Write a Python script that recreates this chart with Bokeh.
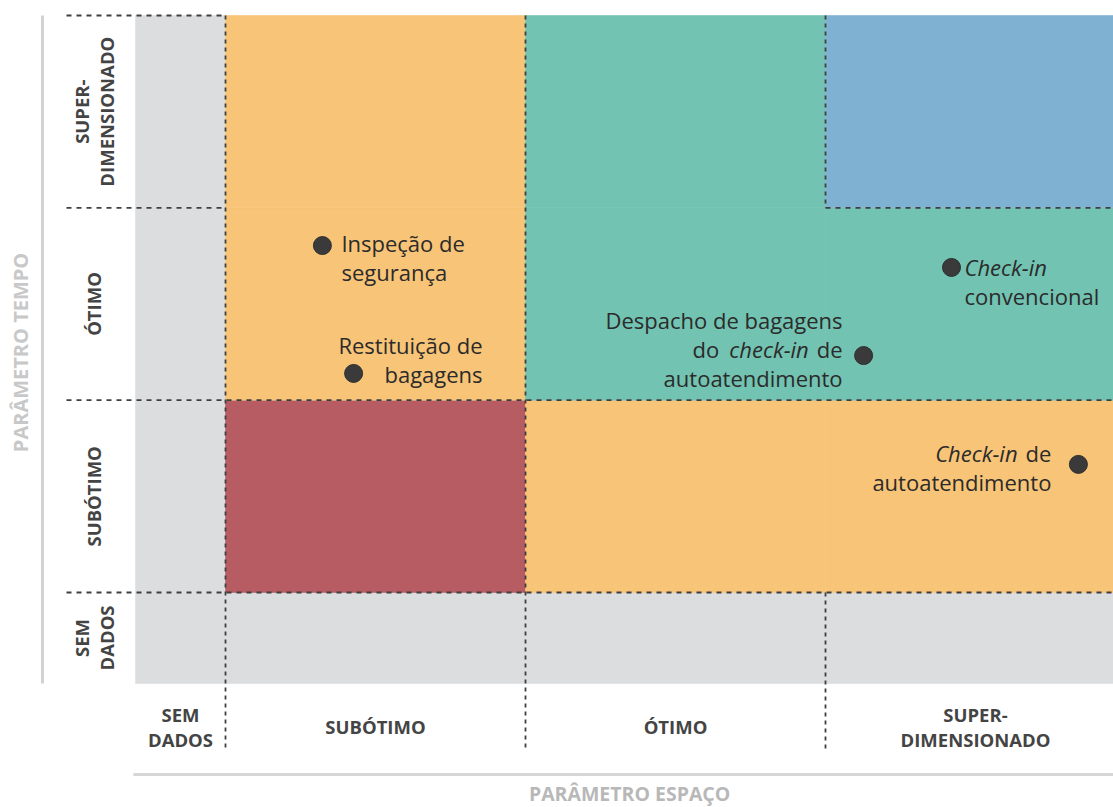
import math
from bokeh.plotting import figure
from bokeh.models import ColumnDataSource, Range1d
from bokeh.core.properties import value
from bokeh.embed import file_html
from bokeh.resources import INLINE

# ---------------- data ----------------
space_categories = ["SEM DADOS", "SUBÓTIMO", "ÓTIMO", "SUPER-DIMENSIONADO"]
time_categories = ["SEM DADOS", "SUBÓTIMO", "ÓTIMO", "SUPER-DIMENSIONADO"]
space_tick_labels = ["SEM\nDADOS", "SUBÓTIMO", "ÓTIMO", "SUPER-\nDIMENSIONADO"]
time_tick_labels = ["SEM\nDADOS", "SUBÓTIMO", "ÓTIMO", "SUPER-\nDIMENSIONADO"]
axis_title_space = "PARÂMETRO ESPAÇO"
axis_title_time = "PARÂMETRO TEMPO"

# zone of each (time row, space column) cell; rows/cols follow the category lists
zone_grid = [
    ["sem dados", "sem dados", "sem dados", "sem dados"],          # time: SEM DADOS
    ["sem dados", "crítico", "subótimo", "subótimo"],              # time: SUBÓTIMO
    ["sem dados", "subótimo", "ótimo", "ótimo"],                   # time: ÓTIMO
    ["sem dados", "subótimo", "ótimo", "superdimensionado"],       # time: SUPER
]

activities = [
    "Inspeção de segurança",
    "Restituição de bagagens",
    "Despacho de bagagens do check-in de autoatendimento",
    "Check-in convencional",
    "Check-in de autoatendimento",
]
activity_space = [0.323, 0.427, 2.127, 2.420, 2.843]
activity_time = [1.804, 1.139, 1.232, 1.690, 0.666]

# ---------------- styles / layout ----------------
zone_colors = {
    "sem dados": "#dcdddf",
    "crítico": "#b85c64",
    "subótimo": "#f8c477",
    "ótimo": "#72c3b1",
    "superdimensionado": "#7fb1d3",
}
space_edges = [-0.3, 0.0, 1.0, 2.0, 3.0]
time_edges = [-0.473, 0.0, 1.0, 2.0, 3.0]
FONT = "Open Sans"
ANN_SIZE = 22
DASH_COLOR = "#3f3f3f"

p = figure(width=1113, height=807, title=None,
           x_range=Range1d(-0.75, 2.96), y_range=Range1d(-1.1179, 3.078),
           output_backend="svg", toolbar_location=None,
           x_axis_location=None, y_axis_location=None, min_border=0)
p.grid.visible = False
p.outline_line_color = None
p.background_fill_color = "white"
p.border_fill_color = "white"

# ---------------- zone cells ----------------
cl, cr, cb, ct, cc = [], [], [], [], []
for i, row in enumerate(zone_grid):
    for j, z in enumerate(row):
        cl.append(space_edges[j]); cr.append(space_edges[j + 1])
        cb.append(time_edges[i]); ct.append(time_edges[i + 1])
        cc.append(zone_colors[z])
p.quad(left=cl, right=cr, bottom=cb, top=ct, fill_color=cc, line_color=cc, line_width=0.6)

# ---------------- dashed zone borders ----------------
lab_x = -0.53      # left start of horizontal dashed lines
bot_y = -0.8215    # bottom end of vertical dashed lines
hx0 = [lab_x, lab_x, space_edges[3], lab_x, lab_x]
hx1 = [space_edges[1], space_edges[1], space_edges[4], space_edges[4], space_edges[4]]
hy = [time_edges[4], time_edges[3], time_edges[3], time_edges[2], time_edges[1]]
p.segment(x0=hx0, y0=hy, x1=hx1, y1=hy, line_color=DASH_COLOR, line_width=1.8, line_dash="5 5")
vx = [space_edges[1], space_edges[2], space_edges[3], space_edges[3]]
vy0 = [time_edges[4], time_edges[4], time_edges[4], time_edges[1]]
vy1 = [bot_y, bot_y, time_edges[3], bot_y]
p.segment(x0=vx, y0=vy0, x1=vx, y1=vy1, line_color=DASH_COLOR, line_width=1.8, line_dash="4 4")

# ---------------- axis lines ----------------
p.segment(x0=[-0.61], y0=[time_edges[0]], x1=[-0.61], y1=[time_edges[4]],
          line_color="#d3d3d3", line_width=3)
p.segment(x0=[-0.307], y0=[-0.946], x1=[2.96], y1=[-0.946],
          line_color="#d6d6d6", line_width=3)

# ---------------- category labels ----------------
sx_centers = [(space_edges[k] + space_edges[k + 1]) / 2 for k in range(4)]
ty_centers = [(time_edges[k] + time_edges[k + 1]) / 2 for k in range(4)]
p.text(x=sx_centers, y=[-0.697] * 4, text=space_tick_labels,
       text_font=value(FONT), text_font_style="bold", text_font_size=value("18.5px"),
       text_color="#444444", text_align="center", text_baseline="middle",
       text_line_height=1.0)
p.text(x=[-0.44] * 4, y=ty_centers, text=time_tick_labels, angle=math.pi / 2,
       text_font=value(FONT), text_font_style="bold", text_font_size=value("18.5px"),
       text_color="#444444", text_align="center", text_baseline="middle",
       text_line_height=1.0)

# axis titles
p.text(x=[1.347], y=[-1.043], text=[axis_title_space],
       text_font=value(FONT), text_font_style="bold", text_font_size=value("19.5px"),
       text_color="#b8b8b8", text_align="center", text_baseline="middle")
p.text(x=[-0.683], y=[1.248], text=[axis_title_time], angle=math.pi / 2,
       text_font=value(FONT), text_font_style="bold", text_font_size=value("20px"),
       text_color="#c8c8c8", text_align="center", text_baseline="middle")

# ---------------- activity points ----------------
p.scatter(x=activity_space, y=activity_time, size=18, fill_color="#3a3a3a",
          line_color="#2e2e2e", line_width=1)

# ---------------- activity labels (with italic runs) ----------------
W_REG = {" ": 0.26, "d": 0.613, "e": 0.561, "o": 0.604}
W_ITA = {"C": 0.63, "c": 0.444, "h": 0.60, "e": 0.525, "k": 0.51, "-": 0.322, "i": 0.262, "n": 0.60}

def run_w(s, italic):
    tbl = W_ITA if italic else W_REG
    return sum(tbl.get(ch, 0.56) for ch in s) * ANN_SIZE

LINE = 29
label_layout = [
    dict(align="left", dx=19, dy=-3, lines=[[("Inspeção de", False)], [("segurança", False)]]),
    dict(align="right", dx=129, dy=-28, lines=[[("Restituição de", False)], [("bagagens", False)]]),
    dict(align="right", dx=-21, dy=-36, lines=[[("Despacho de bagagens", False)],
                                              [("do", False), ("check-in", True), ("de", False)],
                                              [("autoatendimento", False)]]),
    dict(align="left", dx=13, dy=0, lines=[[("Check-in", True)], [("convencional", False)]]),
    dict(align="right", dx=-27, dy=-11, lines=[[("Check-in", True), ("de", False)],
                                              [("autoatendimento", False)]]),
]

tx, ty, tt, txo, tyo, tal, tst = [], [], [], [], [], [], []
space_w = W_REG[" "] * ANN_SIZE * 1.4
for k, lay in enumerate(label_layout):
    for li, runs in enumerate(lay["lines"]):
        yo = lay["dy"] + li * LINE
        if lay["align"] == "right":
            cursor = 0.0
            for text, ital in reversed(runs):
                tx.append(activity_space[k]); ty.append(activity_time[k])
                tt.append(text); txo.append(lay["dx"] - cursor); tyo.append(yo)
                tal.append("right"); tst.append("italic" if ital else "normal")
                cursor += run_w(text, ital) + space_w
        else:
            cursor = 0.0
            for text, ital in runs:
                tx.append(activity_space[k]); ty.append(activity_time[k])
                tt.append(text); txo.append(lay["dx"] + cursor); tyo.append(yo)
                tal.append("left"); tst.append("italic" if ital else "normal")
                cursor += run_w(text, ital) + space_w

src = ColumnDataSource(dict(x=tx, y=ty, text=tt, xo=txo, yo=tyo, align=tal, style=tst))
p.text(x="x", y="y", text="text", x_offset="xo", y_offset="yo", text_align="align",
       text_font_style="style", text_font=value(FONT), text_font_size=value(f"{ANN_SIZE}px"),
       text_color="#2b2b2b", text_baseline="alphabetic", source=src)

open("out.html", "w").write(file_html(p, INLINE))
